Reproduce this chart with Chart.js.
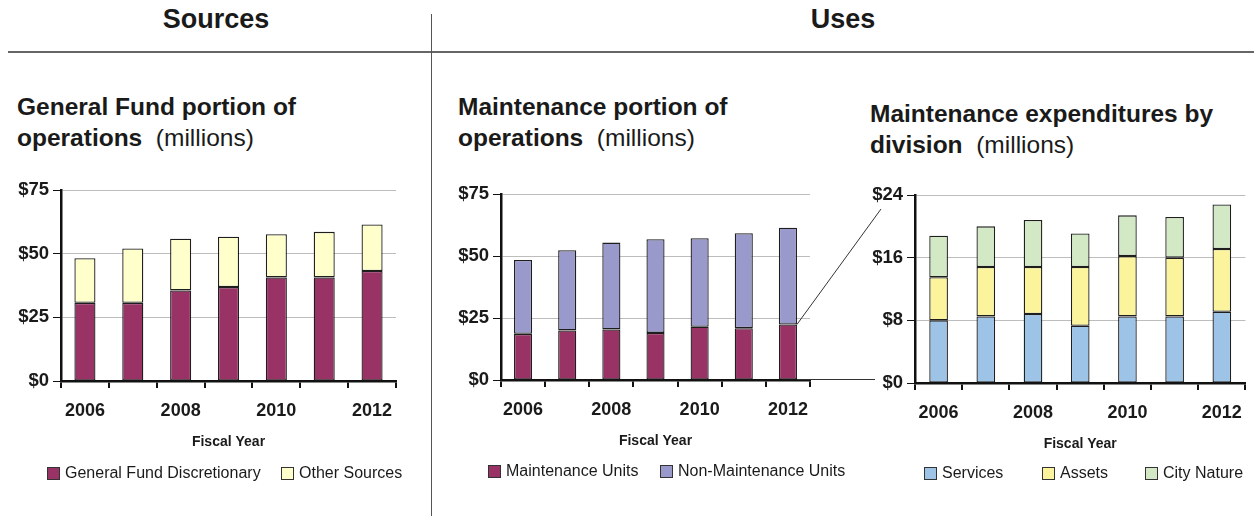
<!DOCTYPE html>
<html>
<head>
<meta charset="utf-8">
<script src="https://cdn.jsdelivr.net/npm/chart.js@4.4.1/dist/chart.umd.min.js"></script>
<style>
  body { margin: 0; background: #fff; font-family: "Liberation Sans", Arial, sans-serif; color: #1a1a1a; }
  #page { position: relative; width: 1254px; height: 516px; overflow: hidden; }
  .abs { position: absolute; white-space: nowrap; }
  .head { font-size: 27px; line-height: 27px; font-weight: bold; text-align: center; }
  .ttl { font-size: 24.5px; line-height: 31px; }
  .ttl b { font-weight: bold; }
  .leg { font-size: 16px; line-height: 16px; }
  .leg i { position: absolute; top: 2px; width: 11px; height: 11px; border: 1px solid #333; }
  canvas { position: absolute; }
</style>
</head>
<body>
<div id="page">
  <div class="abs head" style="left:0;top:6px;width:432px;">Sources</div>
  <div class="abs head" style="left:432px;top:6px;width:822px;">Uses</div>
  <div class="abs" style="left:8px;top:51px;width:1246px;height:2px;background:#666;"></div>
  <div class="abs" style="left:431px;top:14px;width:1px;height:502px;background:#555;"></div>

  <div class="abs ttl" style="left:17px;top:91px;"><b>General Fund portion of</b><br><b>operations</b>&nbsp; (millions)</div>
  <div class="abs ttl" style="left:458px;top:91px;"><b>Maintenance portion of</b><br><b>operations</b>&nbsp; (millions)</div>
  <div class="abs ttl" style="left:870px;top:98px;"><b>Maintenance expenditures by</b><br><b>division</b>&nbsp; (millions)</div>

  <canvas id="c1"></canvas>
  <canvas id="c2"></canvas>
  <canvas id="c3"></canvas>
  <canvas id="overlay" width="1254" height="516" style="left:0;top:0;pointer-events:none;"></canvas>
</div>
<script>
// data (millions)
const years = ['2006', '2007', '2008', '2009', '2010', '2011', '2012'];
const gfDiscretionary = [30.7, 30.7, 35.6, 36.9, 40.7, 40.7, 43.2];
const otherSources = [17.5, 21.4, 20.3, 19.8, 17.0, 17.9, 18.3];
const maintUnits = [18.6, 20.0, 20.4, 19.0, 21.5, 20.9, 22.4];
const nonMaintUnits = [29.8, 32.3, 35.0, 37.8, 35.7, 38.3, 39.0];
const services = [8.0, 8.5, 8.8, 7.3, 8.5, 8.5, 9.1];
const assets = [5.5, 6.3, 6.0, 7.5, 7.7, 7.5, 8.0];
const cityNature = [5.3, 5.2, 6.0, 4.3, 5.2, 5.2, 5.7];
const operationsTicks = [0, 25, 50, 75];
const divisionTicks = [0, 8, 16, 24];

// page layout: canvas box and plot area in page pixels
const layouts = {
  c1: { left: 0, top: 175, width: 420, height: 280, plot: [61, 190, 396, 381], bar: 0.44, legend: [47, 281], legendY: 465 },
  c2: { left: 440, top: 175, width: 420, height: 280, plot: [501, 194, 810, 380], bar: 0.41, legend: [488, 660], legendY: 463 },
  c3: { left: 850, top: 175, width: 404, height: 280, plot: [915, 195, 1252, 383], bar: 0.395, legend: [924, 1042, 1145], legendY: 465 }
};

Chart.defaults.font.family = '"Liberation Sans", Arial, sans-serif';
Chart.defaults.color = '#1a1a1a';

function makeChart(id, datasets, yTicks) {
  const L = layouts[id];
  const cv = document.getElementById(id);
  cv.width = L.width;
  cv.height = L.height;
  cv.style.left = L.left + 'px';
  cv.style.top = L.top + 'px';
  const [pl, pt, pr, pb] = L.plot;
  const xHeight = 70;
  const chart = new Chart(cv, {
    type: 'bar',
    data: {
      labels: years,
      datasets: datasets.map(d => ({
        label: d.label,
        data: d.data,
        backgroundColor: d.color,
        borderColor: '#1e1e1e',
        borderWidth: 1.3,
        borderSkipped: false,
        categoryPercentage: 1,
        barPercentage: L.bar
      }))
    },
    options: {
      responsive: false,
      animation: false,
      layout: {
        padding: {
          left: 0,
          top: pt - L.top,
          right: L.left + L.width - pr,
          bottom: L.top + L.height - pb - xHeight
        }
      },
      plugins: { legend: { display: false }, tooltip: { enabled: false } },
      scales: {
        x: {
          stacked: true,
          afterFit: s => { s.height = xHeight; },
          grid: { display: true, drawOnChartArea: false, offset: true, tickLength: 7, tickColor: '#111', lineWidth: 2 },
          border: { color: '#111', width: 2.5 },
          ticks: {
            autoSkip: false, maxRotation: 0, padding: 12,
            font: { size: 18, weight: 'bold' }, color: '#1a1a1a',
            callback: (v, i) => (i % 2 === 0 ? years[i] : '')
          },
          title: { display: true, text: 'Fiscal Year', font: { size: 14, weight: 'bold' }, color: '#1a1a1a', padding: 0 }
        },
        y: {
          stacked: true,
          min: yTicks[0],
          max: yTicks[yTicks.length - 1],
          afterFit: s => { s.width = pl - L.left; },
          afterBuildTicks: s => { s.ticks = yTicks.map(v => ({ value: v })); },
          grid: { color: '#bdbdbd', lineWidth: 1, tickLength: 8, tickColor: '#111' },
          border: { color: '#111', width: 2.5 },
          ticks: { padding: 4, font: { size: 18.5, weight: 'bold' }, color: '#1a1a1a', callback: v => '$' + v }
        }
      }
    }
  });

  // html legend built from the datasets
  const page = document.getElementById('page');
  datasets.forEach((d, i) => {
    const item = document.createElement('div');
    item.className = 'abs leg';
    item.style.left = L.legend[i] + 'px';
    item.style.top = L.legendY + 'px';
    item.style.paddingLeft = '18px';
    item.innerHTML = '<i style="left:0;background:' + d.color + '"></i>' + d.label;
    page.appendChild(item);
  });
  return chart;
}

const ch1 = makeChart('c1', [
  { label: 'General Fund Discretionary', data: gfDiscretionary, color: '#993366' },
  { label: 'Other Sources', data: otherSources, color: '#ffffcc' }
], operationsTicks);

const ch2 = makeChart('c2', [
  { label: 'Maintenance Units', data: maintUnits, color: '#993366' },
  { label: 'Non-Maintenance Units', data: nonMaintUnits, color: '#9999cc' }
], operationsTicks);

const ch3 = makeChart('c3', [
  { label: 'Services', data: services, color: '#9dc3e6' },
  { label: 'Assets', data: assets, color: '#fbf49c' },
  { label: 'City Nature', data: cityNature, color: '#d3e9c5' }
], divisionTicks);

// connector lines from the 2012 maintenance bar to the division chart
function drawConnector() {
  const ctx = document.getElementById('overlay').getContext('2d');
  const L2 = layouts.c2, L3 = layouts.c3;
  const bar = ch2.getDatasetMeta(0).data[years.length - 1];
  const x0 = L2.left + bar.x + bar.width / 2;
  const yTop = L2.top + bar.y;
  const yBot = L2.top + ch2.chartArea.bottom;
  const a3 = ch3.chartArea;
  ctx.strokeStyle = '#333';
  ctx.lineWidth = 1;
  ctx.beginPath();
  ctx.moveTo(x0, yTop);
  ctx.lineTo(L3.left + a3.left - 34, L3.top + a3.top + 14);
  ctx.moveTo(x0, yBot - 0.5);
  ctx.lineTo(L3.left + a3.left - 40, L3.top + a3.bottom - 3.5);
  ctx.stroke();
}
drawConnector();
</script>
</body>
</html>
